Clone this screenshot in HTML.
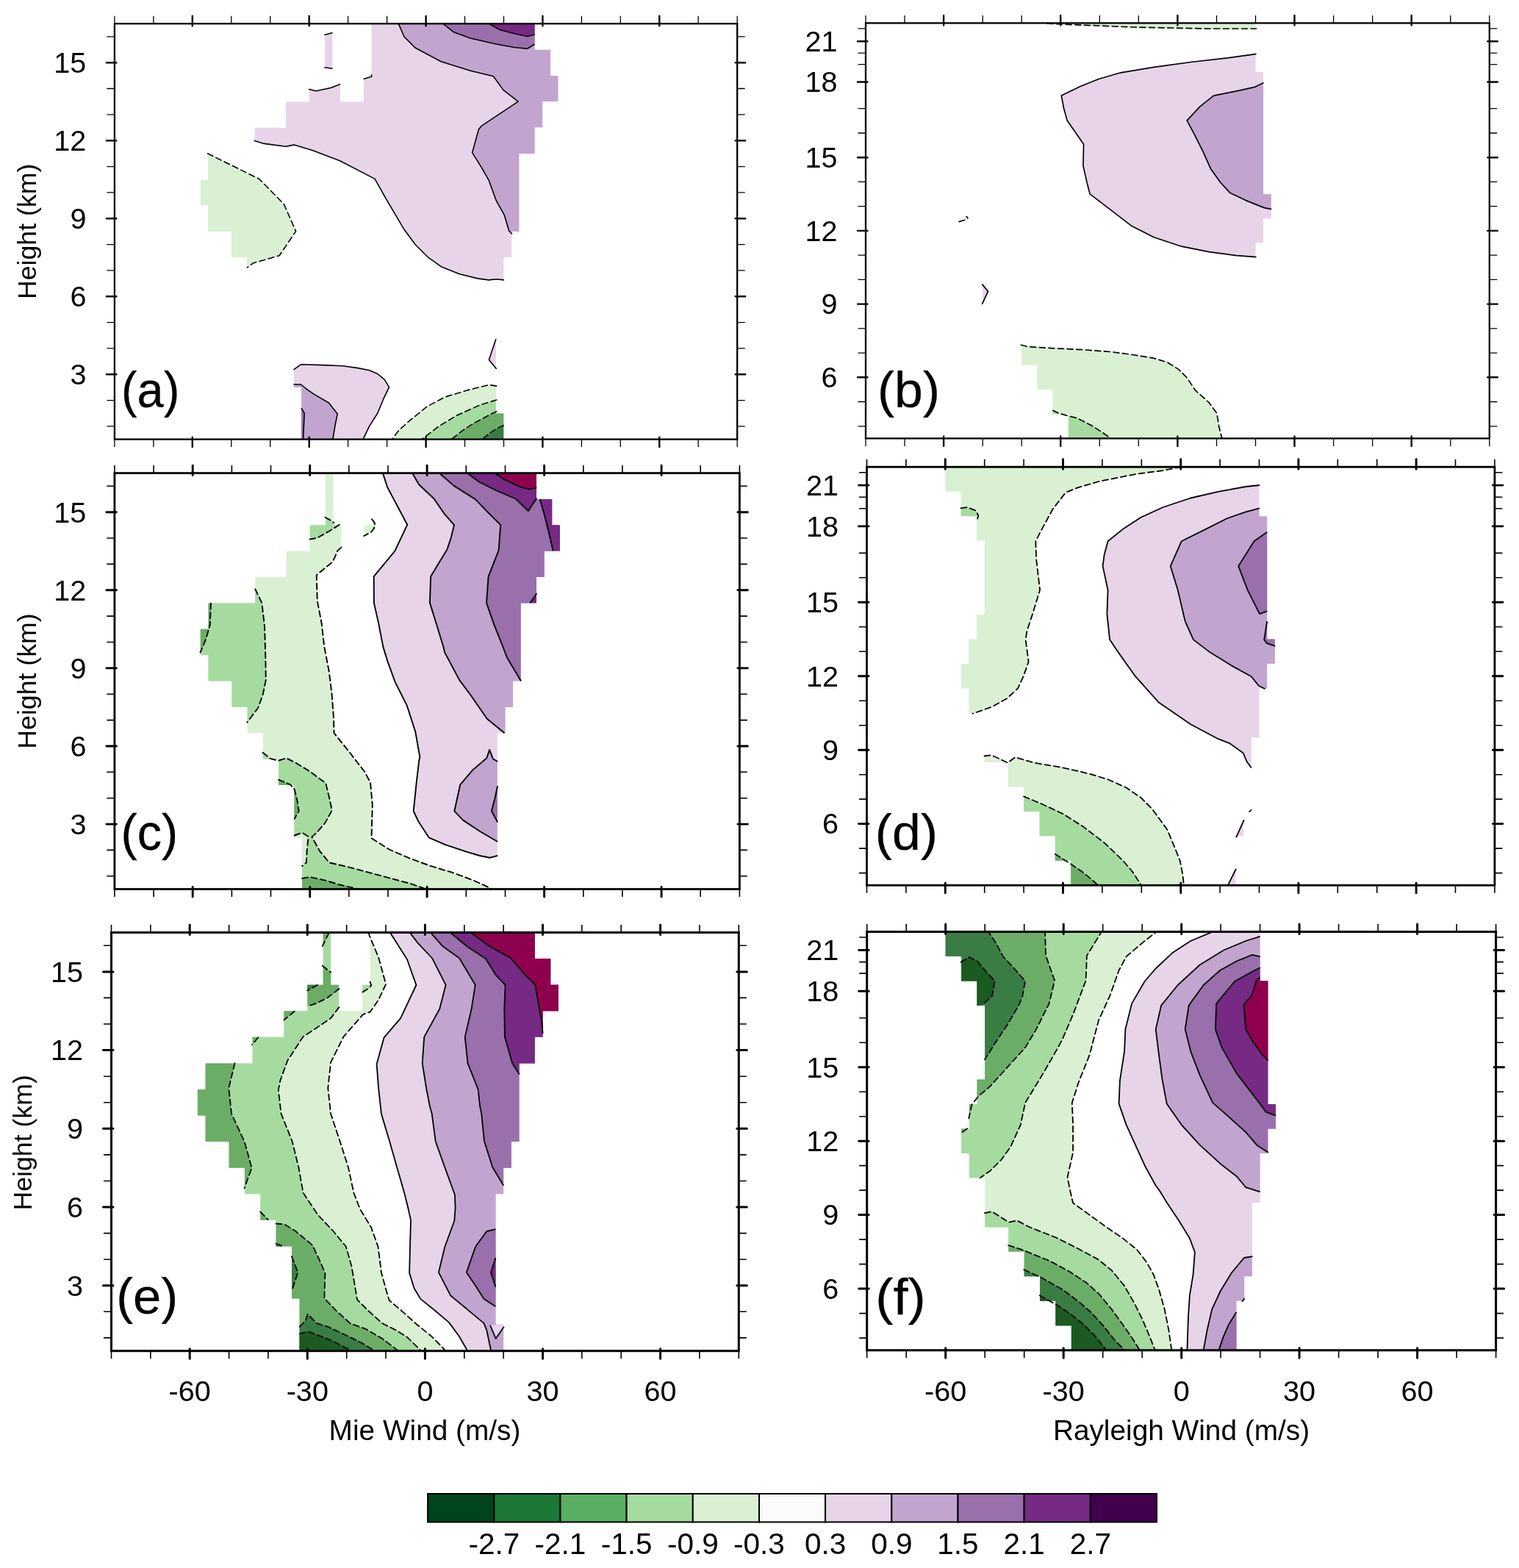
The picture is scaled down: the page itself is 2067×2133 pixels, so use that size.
<!DOCTYPE html>
<html lang="en"><head><meta charset="utf-8"><title>Wind bias contour panels</title>
<style>html,body{margin:0;padding:0;background:#fff}body{width:2067px;height:2133px;overflow:hidden}svg{display:block}.tk{font-family:"Liberation Sans", sans-serif;font-size:39.6px;fill:#000}.ax{font-family:"Liberation Sans", sans-serif;font-size:38.8px;fill:#000}.pl{font-family:"Liberation Sans", sans-serif;font-size:68px;fill:#000;stroke:#000;stroke-width:0.25px}.cl{fill:none;stroke:#000;stroke-linejoin:round}.cd{fill:none;stroke:#000;stroke-dasharray:8 4.6;stroke-linecap:round;stroke-linejoin:round}</style></head><body>
<svg width="2067" height="2133" viewBox="0 0 2067 2133">
<rect width="2067" height="2133" fill="#fff"/>
<g id="panel-a">
<clipPath id="clip-a"><rect x="155.9" y="32.2" width="847.3" height="565.4"/></clipPath>
<g clip-path="url(#clip-a)">
<clipPath id="mask-a"><polygon points="441.9,28.7 452.5,28.7 452.5,102.9 463,102.9 463,138.2 494.8,138.2 494.8,102.9 505.4,102.9 505.4,28.7 727.8,28.7 727.8,67.5 749,67.5 749,102.9 759.6,102.9 759.6,138.2 738.4,138.2 738.4,173.6 727.8,173.6 727.8,208.9 706.6,208.9 706.6,314.9 696.1,314.9 696.1,350.2 685.5,350.2 685.5,385.6 674.9,385.6 674.9,562.3 685.5,562.3 685.5,601.1 410.1,601.1 410.1,526.9 399.5,526.9 399.5,456.2 378.3,456.2 378.3,420.9 357.1,420.9 357.1,385.6 336,385.6 336,350.2 314.8,350.2 314.8,314.9 283,314.9 283,279.6 272.4,279.6 272.4,244.2 283,244.2 283,208.9 346.5,208.9 346.5,173.6 388.9,173.6 388.9,138.2 420.7,138.2 420.7,102.9 441.9,102.9"/></clipPath>
<g clip-path="url(#mask-a)">
<polygon points="345.8,191.3 357.6,195.1 388.8,199.3 400.1,197.1 425.1,204.6 462.6,218.8 510.1,243.4 525.1,270.1 550.2,312.6 565.2,332.7 582.7,350.2 600.2,362.7 625.2,372.7 650.2,378.9 665.2,380.9 675.2,379.7 686,380.9 685.5,350.2 696.1,350.2 696.1,314.9 706.6,314.9 706.6,208.9 727.8,208.9 727.8,173.6 738.4,173.6 738.4,138.2 759.6,138.2 759.6,102.9 749,102.9 749,67.5 727.8,67.5 727.8,14.5 505.4,14.5 505.6,101.3 505.6,104.3 494.6,107.5 494.8,138.2 463,138.2 463.1,114.5 450.1,119.5 430.1,123.8 420.1,121.3 420.7,138.2 388.9,138.2 388.9,173.6 346.5,173.6" fill="#e7d4e8"/>
<polygon points="441.3,47.5 452.6,44.5 452.6,93.3 441.3,91.8" fill="#e7d4e8"/>
<polygon points="541.3,30 550,50 565,65 600.1,83.8 640.1,96.3 671.3,103.8 685.1,122.6 705.1,138.1 655.1,171.3 651.3,176.3 642.6,207.6 655.1,227.6 665.1,245.1 675.1,272.6 686.3,292.6 692.6,313.9 696.8,318.4 696.1,314.9 706.6,314.9 706.6,208.9 727.8,208.9 727.8,173.6 738.4,173.6 738.4,138.2 759.6,138.2 759.6,102.9 749,102.9 749,67.5 727.8,67.5 727.8,14.5" fill="#c2a5cf"/>
<polygon points="600.1,30 617.6,43.8 640.1,52 675.1,60 700.1,64.5 717.6,66.3 727.6,60 727.8,14.5" fill="#9970ab"/>
<polygon points="661.3,30 680.1,40.5 700.1,45.8 717.6,49.5 727.6,47 727.8,14.5" fill="#762a83"/>
<polygon points="282.5,208.8 352.6,243.4 386.3,277.6 402.6,314.6 380.1,347.7 345,357.7 336.3,363.9 336,350.2 314.8,350.2 314.8,314.9 283,314.9 283,279.6 272.4,279.6 272.4,244.2 283,244.2 283,208.9" fill="#d9f0d3"/>
<polygon points="399.5,502.9 409.5,495.8 439.5,496.6 466.4,497.7 486.9,500.6 502.7,503.7 513.7,508.5 523.2,516.4 529.5,526.6 521.6,543.2 513.7,562.2 502.7,579.6 494,597.7 410.1,615.3 410.1,526.9 399.5,526.9" fill="#e7d4e8"/>
<polygon points="399.5,522.7 409.5,523 419,530.6 428.4,536.9 447.4,548 459.2,563 456.1,578 452.9,597.7 410.1,615.3 410.1,526.9 399.5,526.9" fill="#c2a5cf"/>
<polygon points="410.1,555.1 414.2,562.2 412.6,597.7 410.1,615.3" fill="#9970ab"/>
<polygon points="674.9,461.1 665.4,489.5 675.7,502.1" fill="#e7d4e8"/>
<polygon points="675.7,525.1 665.4,523.5 637,530.6 605.4,540.1 581.7,552.7 558,571.7 542.2,585.9 533.5,597.7 685.5,615.3 685.5,562.3 674.9,562.3" fill="#d9f0d3"/>
<polygon points="675.7,544 652.8,551.1 621.2,565.3 597.5,579.6 573.8,597.7 685.5,615.3 685.5,562.3 674.9,562.3" fill="#a6dba0"/>
<polygon points="675.7,559.8 668.6,563 644.9,575.6 629.1,585.9 614.1,597.7 685.5,615.3 685.5,562.3 674.9,562.3" fill="#6bad66"/>
<polygon points="685.2,578.8 676.5,582.7 665.4,589.8 655.9,597.7 685.5,615.3" fill="#3a7d44"/>
</g>
<g stroke-width="1.6">
<polyline points="345.8,191.3 357.6,195.1 388.8,199.3 400.1,197.1 425.1,204.6 462.6,218.8 510.1,243.4 525.1,270.1 550.2,312.6 565.2,332.7 582.7,350.2 600.2,362.7 625.2,372.7 650.2,378.9 665.2,380.9 675.2,379.7 686,380.9" class="cl"/>
<polyline points="505.6,101.3 505.6,104.3 494.6,107.5" class="cl"/>
<polyline points="463.1,114.5 450.1,119.5 430.1,123.8 420.1,121.3" class="cl"/>
<polyline points="441.3,47.5 452.6,44.5" class="cl"/>
<polyline points="452.6,93.3 441.3,91.8" class="cl"/>
<polyline points="541.3,30 550,50 565,65 600.1,83.8 640.1,96.3 671.3,103.8 685.1,122.6 705.1,138.1 655.1,171.3 651.3,176.3 642.6,207.6 655.1,227.6 665.1,245.1 675.1,272.6 686.3,292.6 692.6,313.9 696.8,318.4" class="cl"/>
<polyline points="600.1,30 617.6,43.8 640.1,52 675.1,60 700.1,64.5 717.6,66.3 727.6,60" class="cl"/>
<polyline points="661.3,30 680.1,40.5 700.1,45.8 717.6,49.5 727.6,47" class="cl"/>
<polyline points="282.5,208.8 352.6,243.4 386.3,277.6 402.6,314.6 380.1,347.7 345,357.7 336.3,363.9" class="cd"/>
<polyline points="399.5,502.9 409.5,495.8 439.5,496.6 466.4,497.7 486.9,500.6 502.7,503.7 513.7,508.5 523.2,516.4 529.5,526.6 521.6,543.2 513.7,562.2 502.7,579.6 494,597.7" class="cl"/>
<polyline points="399.5,522.7 409.5,523 419,530.6 428.4,536.9 447.4,548 459.2,563 456.1,578 452.9,597.7" class="cl"/>
<polyline points="410.1,555.1 414.2,562.2 412.6,597.7" class="cl"/>
<polyline points="674.9,461.1 665.4,489.5 675.7,502.1" class="cl"/>
<polyline points="675.7,525.1 665.4,523.5 637,530.6 605.4,540.1 581.7,552.7 558,571.7 542.2,585.9 533.5,597.7" class="cd"/>
<polyline points="675.7,544 652.8,551.1 621.2,565.3 597.5,579.6 573.8,597.7" class="cd"/>
<polyline points="675.7,559.8 668.6,563 644.9,575.6 629.1,585.9 614.1,597.7" class="cd"/>
<polyline points="685.2,578.8 676.5,582.7 665.4,589.8 655.9,597.7" class="cd"/>
</g>
</g>
<path d="M155.9 21.7V32.2M155.9 597.6V608.1M208.9 21.7V32.2M208.9 597.6V608.1M314.8 21.7V32.2M314.8 597.6V608.1M367.7 21.7V32.2M367.7 597.6V608.1M473.6 21.7V32.2M473.6 597.6V608.1M526.6 21.7V32.2M526.6 597.6V608.1M632.5 21.7V32.2M632.5 597.6V608.1M685.5 21.7V32.2M685.5 597.6V608.1M791.4 21.7V32.2M791.4 597.6V608.1M844.3 21.7V32.2M844.3 597.6V608.1M950.2 21.7V32.2M950.2 597.6V608.1M1003.2 21.7V32.2M1003.2 597.6V608.1M145.4 579.9H155.9M1003.2 579.9H1013.7M145.4 544.6H155.9M1003.2 544.6H1013.7M145.4 473.9H155.9M1003.2 473.9H1013.7M145.4 438.6H155.9M1003.2 438.6H1013.7M145.4 367.9H155.9M1003.2 367.9H1013.7M145.4 332.6H155.9M1003.2 332.6H1013.7M145.4 261.9H155.9M1003.2 261.9H1013.7M145.4 226.6H155.9M1003.2 226.6H1013.7M145.4 155.9H155.9M1003.2 155.9H1013.7M145.4 120.5H155.9M1003.2 120.5H1013.7M145.4 49.9H155.9M1003.2 49.9H1013.7" stroke="#000" stroke-width="1.3" fill="none"/>
<path d="M261.8 21.7V35.2M261.8 594.6V608.1M420.7 21.7V35.2M420.7 594.6V608.1M579.6 21.7V35.2M579.6 594.6V608.1M738.4 21.7V35.2M738.4 594.6V608.1M897.3 21.7V35.2M897.3 594.6V608.1M144.9 509.3H158.4M1000.7 509.3H1014.2M144.9 403.2H158.4M1000.7 403.2H1014.2M144.9 297.2H158.4M1000.7 297.2H1014.2M144.9 191.2H158.4M1000.7 191.2H1014.2M144.9 85.2H158.4M1000.7 85.2H1014.2" stroke="#000" stroke-width="2.4" fill="none" stroke-linecap="round"/>
<rect x="155.9" y="32.2" width="847.3" height="565.4" fill="none" stroke="#000" stroke-width="2.3"/>
<text x="117.4" y="523.1" text-anchor="end" class="tk">3</text>
<text x="117.4" y="417" text-anchor="end" class="tk">6</text>
<text x="117.4" y="311" text-anchor="end" class="tk">9</text>
<text x="117.4" y="205" text-anchor="end" class="tk">12</text>
<text x="117.4" y="99" text-anchor="end" class="tk">15</text>
<text transform="translate(164.9 554.1) scale(0.955 1)" class="pl">(a)</text>
</g>
<g id="panel-b">
<clipPath id="clip-b"><rect x="1178" y="31.4" width="848.8" height="565"/></clipPath>
<g clip-path="url(#clip-b)">
<clipPath id="mask-b"><polygon points="1284.1,28.1 1284.1,64.6 1305.3,64.6 1305.3,97.9 1326.5,97.9 1326.5,131.1 1337.2,131.1 1337.2,230.8 1326.5,230.8 1326.5,264 1315.9,264 1315.9,297.3 1305.3,297.3 1305.3,330.5 1315.9,330.5 1315.9,363.8 1337.2,363.8 1337.2,430.2 1369,430.2 1369,463.5 1390.2,463.5 1390.2,496.7 1411.4,496.7 1411.4,529.9 1432.6,529.9 1432.6,563.2 1453.9,563.2 1453.9,599.7 1676.7,599.7 1676.7,529.9 1687.3,529.9 1687.3,496.7 1697.9,496.7 1697.9,397 1708.5,397 1708.5,330.5 1719.1,330.5 1719.1,297.3 1729.7,297.3 1729.7,264 1719.1,264 1719.1,97.9 1708.5,97.9 1708.5,28.1"/></clipPath>
<g clip-path="url(#mask-b)">
<polygon points="1425.1,32 1445.1,33 1495.1,35 1545.1,37 1595.2,38 1645.2,39 1709.5,39 1709.5,28.4 1425.1,28.4" fill="#d9f0d3"/>
<polygon points="1709.5,73.3 1702.7,74.3 1670.2,78.8 1620.2,84.5 1570.2,91.3 1525.1,98.8 1495.1,107.5 1470.1,117.5 1444.3,130.1 1447.6,147.6 1452.1,163.8 1465.1,182.6 1474.6,196.3 1473.9,225.1 1478.9,247.6 1483.1,263.9 1507.6,282.6 1540.1,307.6 1570.2,322.7 1607.7,335.2 1645.2,342.7 1682.7,347.7 1709.5,349.7 2031.8,349.7 2031.8,73.3" fill="#e7d4e8"/>
<polygon points="1719.5,112.5 1707.7,118.3 1682.7,123.8 1651.4,130.1 1632.7,145.1 1615.2,163.8 1625.2,182.6 1637.7,207.6 1647.7,230.1 1660.2,247.6 1674,262.6 1695.2,272.6 1720.2,282.6 1730.2,284.6 2031.8,284.6 2031.8,112.5" fill="#c2a5cf"/>
<polygon points="1336.3,386.4 1344.5,396.4 1336.3,413.9" fill="#e7d4e8"/>
<polygon points="1389.5,469.2 1399,471.7 1436.9,473.9 1474.8,475.8 1512.7,478.7 1541.1,482.5 1569.6,487.2 1588.5,492.9 1603.7,502.4 1615.1,513.7 1626.4,530.8 1645.4,547.9 1655.8,562.1 1658.7,580.1 1662.5,595.3 1662.8,598.1 1178,599.4 1178,469.2" fill="#d9f0d3"/>
<polygon points="1432.7,558.3 1440.7,562.1 1453.9,565.9 1465.3,568.7 1484.3,578.2 1499.4,587.7 1509.9,595.3 1512.7,598.1 1178,599.4 1178,558.3" fill="#a6dba0"/>
</g>
<g stroke-width="1.7">
<polyline points="1425.1,32 1445.1,33 1495.1,35 1545.1,37 1595.2,38 1645.2,39 1709.5,39" class="cd"/>
<polyline points="1709.5,73.3 1702.7,74.3 1670.2,78.8 1620.2,84.5 1570.2,91.3 1525.1,98.8 1495.1,107.5 1470.1,117.5 1444.3,130.1 1447.6,147.6 1452.1,163.8 1465.1,182.6 1474.6,196.3 1473.9,225.1 1478.9,247.6 1483.1,263.9 1507.6,282.6 1540.1,307.6 1570.2,322.7 1607.7,335.2 1645.2,342.7 1682.7,347.7 1709.5,349.7" class="cl"/>
<polyline points="1719.5,112.5 1707.7,118.3 1682.7,123.8 1651.4,130.1 1632.7,145.1 1615.2,163.8 1625.2,182.6 1637.7,207.6 1647.7,230.1 1660.2,247.6 1674,262.6 1695.2,272.6 1720.2,282.6 1730.2,284.6" class="cl"/>
<polyline points="1336.3,386.4 1344.5,396.4 1336.3,413.9" class="cl"/>
<polyline points="1305,301.6 1313.8,298.9 1317,296.4 1315,294.6" class="cd"/>
<polyline points="1389.5,469.2 1399,471.7 1436.9,473.9 1474.8,475.8 1512.7,478.7 1541.1,482.5 1569.6,487.2 1588.5,492.9 1603.7,502.4 1615.1,513.7 1626.4,530.8 1645.4,547.9 1655.8,562.1 1658.7,580.1 1662.5,595.3 1662.8,598.1" class="cd"/>
<polyline points="1432.7,558.3 1440.7,562.1 1453.9,565.9 1465.3,568.7 1484.3,578.2 1499.4,587.7 1509.9,595.3 1512.7,598.1" class="cd"/>
</g>
</g>
<path d="M1178 20.9V31.4M1178 596.4V606.9M1231 20.9V31.4M1231 596.4V606.9M1337.2 20.9V31.4M1337.2 596.4V606.9M1390.2 20.9V31.4M1390.2 596.4V606.9M1496.3 20.9V31.4M1496.3 596.4V606.9M1549.3 20.9V31.4M1549.3 596.4V606.9M1655.5 20.9V31.4M1655.5 596.4V606.9M1708.5 20.9V31.4M1708.5 596.4V606.9M1814.6 20.9V31.4M1814.6 596.4V606.9M1867.7 20.9V31.4M1867.7 596.4V606.9M1973.8 20.9V31.4M1973.8 596.4V606.9M2026.8 20.9V31.4M2026.8 596.4V606.9M1167.5 579.8H1178M2026.8 579.8H2037.3M1167.5 546.5H1178M2026.8 546.5H2037.3M1167.5 480.1H1178M2026.8 480.1H2037.3M1167.5 446.8H1178M2026.8 446.8H2037.3M1167.5 380.4H1178M2026.8 380.4H2037.3M1167.5 347.1H1178M2026.8 347.1H2037.3M1167.5 280.7H1178M2026.8 280.7H2037.3M1167.5 247.4H1178M2026.8 247.4H2037.3M1167.5 181H1178M2026.8 181H2037.3M1167.5 147.7H1178M2026.8 147.7H2037.3M1167.5 87.6H1178M2026.8 87.6H2037.3M1167.5 72.1H1178M2026.8 72.1H2037.3M1167.5 38.8H1178M2026.8 38.8H2037.3" stroke="#000" stroke-width="1.3" fill="none"/>
<path d="M1284.1 20.9V34.4M1284.1 593.4V606.9M1443.2 20.9V34.4M1443.2 593.4V606.9M1602.4 20.9V34.4M1602.4 593.4V606.9M1761.5 20.9V34.4M1761.5 593.4V606.9M1920.7 20.9V34.4M1920.7 593.4V606.9M1167 513.3H1180.5M2024.3 513.3H2037.8M1167 413.6H1180.5M2024.3 413.6H2037.8M1167 313.9H1180.5M2024.3 313.9H2037.8M1167 214.2H1180.5M2024.3 214.2H2037.8M1167 111.5H1180.5M2024.3 111.5H2037.8M1167 56.2H1180.5M2024.3 56.2H2037.8" stroke="#000" stroke-width="2.4" fill="none" stroke-linecap="round"/>
<rect x="1178" y="31.4" width="848.8" height="565" fill="none" stroke="#000" stroke-width="2.3"/>
<text x="1139.5" y="527.1" text-anchor="end" class="tk">6</text>
<text x="1139.5" y="427.4" text-anchor="end" class="tk">9</text>
<text x="1139.5" y="327.7" text-anchor="end" class="tk">12</text>
<text x="1139.5" y="228" text-anchor="end" class="tk">15</text>
<text x="1139.5" y="125.3" text-anchor="end" class="tk">18</text>
<text x="1139.5" y="70" text-anchor="end" class="tk">21</text>
<text transform="translate(1193.9 553.9) scale(1.025 1)" class="pl">(b)</text>
</g>
<g id="panel-c">
<clipPath id="clip-c"><rect x="155.9" y="643.6" width="850.5" height="565.9"/></clipPath>
<g clip-path="url(#clip-c)">
<clipPath id="mask-c"><polygon points="442.9,640.1 453.6,640.1 453.6,714.3 464.2,714.3 464.2,749.7 496.1,749.7 496.1,714.3 506.7,714.3 506.7,640.1 730,640.1 730,679 751.2,679 751.2,714.3 761.9,714.3 761.9,749.7 740.6,749.7 740.6,785.1 730,785.1 730,820.4 708.7,820.4 708.7,926.5 698.1,926.5 698.1,961.9 687.5,961.9 687.5,997.3 676.8,997.3 676.8,1174.1 687.5,1174.1 687.5,1213 411,1213 411,1138.8 400.4,1138.8 400.4,1068 379.2,1068 379.2,1032.7 357.9,1032.7 357.9,997.3 336.6,997.3 336.6,961.9 315.4,961.9 315.4,926.5 283.5,926.5 283.5,891.2 272.8,891.2 272.8,855.8 283.5,855.8 283.5,820.4 347.3,820.4 347.3,785.1 389.8,785.1 389.8,749.7 421.7,749.7 421.7,714.3 442.9,714.3"/></clipPath>
<g clip-path="url(#mask-c)">
<polygon points="155.9,640.6 465.2,640.6 464.4,744.6 459,749.6 455.6,758.1 452.2,764.8 443.8,771.5 433.7,780 430.7,782.5 431.8,817.6 437.6,847.6 441.3,880.1 447.6,912.6 451.4,942.7 453.9,975.2 454.6,997.2 475.1,1022.7 496.4,1050.2 504,1064.5 506.8,1094.8 505.5,1140.3 529.6,1155.5 558,1167.8 586.4,1178.2 614.9,1186.7 643.3,1197.2 666.1,1207.6 670.8,1210.4 155.9,1212.5" fill="#d9f0d3"/>
<polygon points="506.1,706.2 509.5,710.9 510.4,714.2 508.7,719.3 505.3,723.5 499.4,726.9 495.2,729 492.7,729 492.7,706.2" fill="#d9f0d3"/>
<polygon points="347.3,801.3 356.3,820.1 360.1,852.6 361.3,892.6 361.8,925.1 357.6,945.2 351.3,962.7 336.3,982.7 150.9,982.7 150.9,801.3" fill="#a6dba0"/>
<polygon points="442.5,703.7 451.4,708.8 454.3,711.3 454.3,714.7 461.9,713.8 450.5,721 440.4,726.9 431.2,731.9 421.5,733.6 416.8,733.6 416.8,703.7" fill="#a6dba0"/>
<polygon points="357.6,1023.7 368.4,1032.2 378.9,1034.7 389.7,1031.3 402.6,1037.9 421.5,1049.3 443.3,1065.4 448.1,1085.3 451.8,1102.4 442.4,1119.4 431,1132.7 424.4,1138.4 434.8,1157.3 448.1,1173.5 472.7,1179.1 501.1,1186.7 529.6,1194.3 558,1201.9 577,1208.5 581.7,1210.8 155.9,1212.5 155.9,1023.7" fill="#a6dba0"/>
<polygon points="400.7,1136.5 411.1,1132.7 419.6,1138 417.7,1157.3 416.8,1173.5 411.1,1178.2 396.9,1178.2 396.9,1136.5" fill="#d9f0d3"/>
<polygon points="287,820.6 285.8,850.1 280,870.1 272.5,887.6 262.5,887.6 262.5,820.6" fill="#6bad66"/>
<polygon points="378.9,1060.7 395,1067.3 400.7,1073.9 404.5,1089.1 406.7,1103.3 400.7,1113.7 377.9,1113.7 377.9,1060.7" fill="#6bad66"/>
<polygon points="411.1,1194.9 421.5,1193 444.3,1198.1 463.2,1203.8 484.1,1208.5 488.8,1210.8 411.1,1210.8" fill="#6bad66"/>
<polygon points="519.3,640.6 521.3,644.7 527.2,662.9 554.2,713.8 537.3,749.6 508.7,784.2 508.9,820.1 515.1,847.6 521.4,880.1 527.6,900.1 537.6,927.6 553.9,960.2 565.2,995.2 571.4,1030.2 570.3,1034.1 566.5,1066.4 562.7,1103.3 569.4,1117.5 583.6,1139.3 605.4,1148.8 633.8,1158.3 652.8,1164 666.1,1166.8 677.1,1164 1011.4,1164 1011.4,640.6" fill="#e7d4e8"/>
<polygon points="560,641.5 561.3,644 570.2,659.3 590.6,678.5 604.6,698.9 618,714.2 613.6,732 608.5,747.3 598.3,763.9 586.1,784.3 584.9,820.1 593.2,846.8 603.4,880 605.2,887.6 625.2,925.1 640.2,945.2 662.7,977.7 686.5,997.2 1011.4,997.2 1011.4,641.5" fill="#c2a5cf"/>
<polygon points="677.1,1036 670.8,1032.2 666.1,1019.9 662.3,1031.3 643.3,1047.4 626.3,1067.3 618.3,1103.3 630,1115.6 652.8,1130.8 677.1,1145 1011.4,1145 1011.4,1036" fill="#c2a5cf"/>
<polygon points="596.4,641.5 598.3,644 617.4,660.6 646.7,679.1 664.6,697.6 681.2,714.2 679.9,730.8 678.6,748.6 671,767.8 664.6,784.3 662,820.1 672.2,849.4 684.4,880 690.2,895.1 709,926.4 1011.4,926.4 1011.4,641.5" fill="#9970ab"/>
<polygon points="677.1,1069.2 673.6,1085.3 668.9,1103.3 677.1,1118.5 1011.4,1118.5 1011.4,1069.2" fill="#9970ab"/>
<polygon points="633.3,641.5 636.5,644 651.8,655.5 674.8,667 701.6,678.5 718.8,695.1 730.3,677.8 730.3,641.5" fill="#762a83"/>
<polygon points="734.7,679.1 741.1,701.4 746.2,721.8 752.6,749.3 1011.4,749.3 1011.4,679.1" fill="#762a83"/>
<polygon points="730.3,807.3 721.4,820.1 730.3,820.1" fill="#762a83"/>
<polygon points="669.7,641.5 673.5,644 687.6,653 706.7,661.9 720.7,665.7 730.3,663.4 730.3,641.5" fill="#8e004d"/>
</g>
<g stroke-width="1.9">
<polyline points="464.4,744.6 459,749.6 455.6,758.1 452.2,764.8 443.8,771.5 433.7,780 430.7,782.5 431.8,817.6 437.6,847.6 441.3,880.1 447.6,912.6 451.4,942.7 453.9,975.2 454.6,997.2 475.1,1022.7 496.4,1050.2 504,1064.5 506.8,1094.8 505.5,1140.3 529.6,1155.5 558,1167.8 586.4,1178.2 614.9,1186.7 643.3,1197.2 666.1,1207.6 670.8,1210.4" class="cd"/>
<polyline points="506.1,706.2 509.5,710.9 510.4,714.2 508.7,719.3 505.3,723.5 499.4,726.9 495.2,729" class="cd"/>
<polyline points="347.3,801.3 356.3,820.1 360.1,852.6 361.3,892.6 361.8,925.1 357.6,945.2 351.3,962.7 336.3,982.7" class="cd"/>
<polyline points="442.5,703.7 451.4,708.8 454.3,711.3" class="cd"/>
<polyline points="461.9,713.8 450.5,721 440.4,726.9 431.2,731.9 421.5,733.6" class="cd"/>
<polyline points="357.6,1023.7 368.4,1032.2 378.9,1034.7 389.7,1031.3 402.6,1037.9 421.5,1049.3 443.3,1065.4 448.1,1085.3 451.8,1102.4 442.4,1119.4 431,1132.7 424.4,1138.4 434.8,1157.3 448.1,1173.5 472.7,1179.1 501.1,1186.7 529.6,1194.3 558,1201.9 577,1208.5 581.7,1210.8" class="cd"/>
<polyline points="400.7,1136.5 411.1,1132.7 419.6,1138 417.7,1157.3 416.8,1173.5 411.1,1178.2" class="cd"/>
<polyline points="287,820.6 285.8,850.1 280,870.1 272.5,887.6" class="cd"/>
<polyline points="378.9,1060.7 395,1067.3 400.7,1073.9 404.5,1089.1 406.7,1103.3 400.7,1113.7" class="cd"/>
<polyline points="411.1,1194.9 421.5,1193 444.3,1198.1 463.2,1203.8 484.1,1208.5 488.8,1210.8" class="cd"/>
<polyline points="519.3,640.6 521.3,644.7 527.2,662.9 554.2,713.8 537.3,749.6 508.7,784.2 508.9,820.1 515.1,847.6 521.4,880.1 527.6,900.1 537.6,927.6 553.9,960.2 565.2,995.2 571.4,1030.2 570.3,1034.1 566.5,1066.4 562.7,1103.3 569.4,1117.5 583.6,1139.3 605.4,1148.8 633.8,1158.3 652.8,1164 666.1,1166.8 677.1,1164" class="cl"/>
<polyline points="560,641.5 561.3,644 570.2,659.3 590.6,678.5 604.6,698.9 618,714.2 613.6,732 608.5,747.3 598.3,763.9 586.1,784.3 584.9,820.1 593.2,846.8 603.4,880 605.2,887.6 625.2,925.1 640.2,945.2 662.7,977.7 686.5,997.2" class="cl"/>
<polyline points="677.1,1036 670.8,1032.2 666.1,1019.9 662.3,1031.3 643.3,1047.4 626.3,1067.3 618.3,1103.3 630,1115.6 652.8,1130.8 677.1,1145" class="cl"/>
<polyline points="596.4,641.5 598.3,644 617.4,660.6 646.7,679.1 664.6,697.6 681.2,714.2 679.9,730.8 678.6,748.6 671,767.8 664.6,784.3 662,820.1 672.2,849.4 684.4,880 690.2,895.1 709,926.4" class="cl"/>
<polyline points="677.1,1069.2 673.6,1085.3 668.9,1103.3 677.1,1118.5" class="cl"/>
<polyline points="633.3,641.5 636.5,644 651.8,655.5 674.8,667 701.6,678.5 718.8,695.1 730.3,677.8" class="cl"/>
<polyline points="734.7,679.1 741.1,701.4 746.2,721.8 752.6,749.3" class="cl"/>
<polyline points="730.3,807.3 721.4,820.1" class="cl"/>
<polyline points="669.7,641.5 673.5,644 687.6,653 706.7,661.9 720.7,665.7 730.3,663.4" class="cl"/>
</g>
</g>
<path d="M155.9 633.1V643.6M155.9 1209.5V1220M209.1 633.1V643.6M209.1 1209.5V1220M315.4 633.1V643.6M315.4 1209.5V1220M368.5 633.1V643.6M368.5 1209.5V1220M474.8 633.1V643.6M474.8 1209.5V1220M528 633.1V643.6M528 1209.5V1220M634.3 633.1V643.6M634.3 1209.5V1220M687.5 633.1V643.6M687.5 1209.5V1220M793.8 633.1V643.6M793.8 1209.5V1220M846.9 633.1V643.6M846.9 1209.5V1220M953.2 633.1V643.6M953.2 1209.5V1220M1006.4 633.1V643.6M1006.4 1209.5V1220M145.4 1191.8H155.9M1006.4 1191.8H1016.9M145.4 1156.4H155.9M1006.4 1156.4H1016.9M145.4 1085.7H155.9M1006.4 1085.7H1016.9M145.4 1050.3H155.9M1006.4 1050.3H1016.9M145.4 979.6H155.9M1006.4 979.6H1016.9M145.4 944.2H155.9M1006.4 944.2H1016.9M145.4 873.5H155.9M1006.4 873.5H1016.9M145.4 838.1H155.9M1006.4 838.1H1016.9M145.4 767.4H155.9M1006.4 767.4H1016.9M145.4 732H155.9M1006.4 732H1016.9M145.4 661.3H155.9M1006.4 661.3H1016.9" stroke="#000" stroke-width="1.6" fill="none"/>
<path d="M262.2 633.1V646.6M262.2 1206.5V1220M421.7 633.1V646.6M421.7 1206.5V1220M581.1 633.1V646.6M581.1 1206.5V1220M740.6 633.1V646.6M740.6 1206.5V1220M900.1 633.1V646.6M900.1 1206.5V1220M144.9 1121.1H158.4M1003.9 1121.1H1017.4M144.9 1015H158.4M1003.9 1015H1017.4M144.9 908.9H158.4M1003.9 908.9H1017.4M144.9 802.8H158.4M1003.9 802.8H1017.4M144.9 696.7H158.4M1003.9 696.7H1017.4" stroke="#000" stroke-width="2.9" fill="none" stroke-linecap="round"/>
<rect x="155.9" y="643.6" width="850.5" height="565.9" fill="none" stroke="#000" stroke-width="2.8"/>
<text x="117.4" y="1134.9" text-anchor="end" class="tk">3</text>
<text x="117.4" y="1028.8" text-anchor="end" class="tk">6</text>
<text x="117.4" y="922.7" text-anchor="end" class="tk">9</text>
<text x="117.4" y="816.6" text-anchor="end" class="tk">12</text>
<text x="117.4" y="710.5" text-anchor="end" class="tk">15</text>
<text transform="translate(164.6 1155.9) scale(0.979 1)" class="pl">(c)</text>
</g>
<g id="panel-d">
<clipPath id="clip-d"><rect x="1179.5" y="635.2" width="854.4" height="569.1"/></clipPath>
<g clip-path="url(#clip-d)">
<clipPath id="mask-d"><polygon points="1286.3,631.9 1286.3,668.7 1307.7,668.7 1307.7,702.2 1329,702.2 1329,735.6 1339.7,735.6 1339.7,836.1 1329,836.1 1329,869.5 1318.3,869.5 1318.3,903 1307.7,903 1307.7,936.5 1318.3,936.5 1318.3,970 1339.7,970 1339.7,1036.9 1371.7,1036.9 1371.7,1070.4 1393.1,1070.4 1393.1,1103.9 1414.5,1103.9 1414.5,1137.3 1435.8,1137.3 1435.8,1170.8 1457.2,1170.8 1457.2,1207.6 1681.5,1207.6 1681.5,1137.3 1692.1,1137.3 1692.1,1103.9 1702.8,1103.9 1702.8,1003.4 1713.5,1003.4 1713.5,936.5 1724.2,936.5 1724.2,903 1734.9,903 1734.9,869.5 1724.2,869.5 1724.2,702.2 1713.5,702.2 1713.5,631.9"/></clipPath>
<g clip-path="url(#mask-d)">
<polygon points="1179.5,632.2 1606.4,633.8 1605.2,635.5 1582.7,640 1545.1,645 1495.1,655 1465.1,663.8 1450.1,670 1432.6,692.5 1417.6,720.1 1409.3,736.3 1410.1,760.1 1415.1,802.6 1405.1,835.1 1397.6,857.6 1395.6,870.1 1399.6,900.1 1392.6,920.2 1385.1,936.4 1370.1,950.2 1350,961.4 1323.8,970.7 1179.5,970.7" fill="#d9f0d3"/>
<polygon points="1307.5,691.3 1316.3,690 1327.5,694.5 1331.3,701.3 1330,706.3 1305,706.3 1305,691.3" fill="#a6dba0"/>
<polygon points="1339.5,1028.5 1348.8,1027.2 1360,1032.2 1371.3,1037.7 1381.3,1030.2 1407.6,1037.7 1445.1,1044 1482.6,1052.7 1507.6,1060.2 1532.6,1071.5 1552.6,1085.2 1567.6,1100.2 1588.5,1128.9 1598,1151.7 1605.6,1170.6 1609.4,1189.6 1610.9,1203.8 1611.1,1206.6 1179.5,1207.3 1179.5,1028.5" fill="#d9f0d3"/>
<polygon points="1393.1,1083.4 1417.9,1093.8 1446.4,1107.1 1474.8,1125.1 1503.2,1146.9 1527.9,1170.6 1541.1,1185.8 1552.5,1203.8 1554,1206.6 1179.5,1207.3 1179.5,1083.4" fill="#a6dba0"/>
<polygon points="1435.7,1161.7 1455.8,1174.4 1471,1184.8 1484.3,1195.3 1493.7,1203.8 1496,1206.6 1179.5,1207.3 1179.5,1161.7" fill="#6bad66"/>
<polygon points="1714,660 1695.2,662 1657.7,668.8 1620.2,677.5 1582.7,690 1552.6,703.8 1527.6,720.1 1507.6,736.3 1502.6,755.1 1500.6,770.1 1507.6,802.6 1506.4,835.1 1510.1,870.1 1520.1,885.1 1545.1,920.2 1576.4,955.2 1620.2,985.2 1657.7,1005.2 1673.8,1011.4 1691.8,1024.6 1696.6,1036 1702.8,1044.5 2038.9,1044.5 2038.9,660" fill="#e7d4e8"/>
<polygon points="1714,691.3 1695.2,696.3 1670.2,705 1640.2,720.1 1607.7,736.3 1592.7,770.1 1602.7,802.6 1612.7,845.1 1623.9,870.1 1645.2,886.4 1675.2,905.1 1702.7,920.2 1712.7,932.7 1721.5,937.2 2038.9,937.2 2038.9,691.3" fill="#c2a5cf"/>
<polygon points="1724.2,723.8 1706.5,736.3 1685.2,770.1 1697.7,802.6 1714,835.1 1724.2,831.4 2038.9,831.4 2038.9,723.8" fill="#9970ab"/>
<polygon points="1724.2,845.1 1720.2,870.1 1724,875.1 1735.2,878.9 2038.9,878.9 2038.9,845.1" fill="#9970ab"/>
<polygon points="1703.2,1101.4 1692.8,1114.7 1682,1139.3 1682,1182 1671,1203.8 1670,1206.3 2038.9,1206.3 2038.9,1101.4" fill="#e7d4e8"/>
</g>
<g stroke-width="1.8">
<polyline points="1606.4,633.8 1605.2,635.5 1582.7,640 1545.1,645 1495.1,655 1465.1,663.8 1450.1,670 1432.6,692.5 1417.6,720.1 1409.3,736.3 1410.1,760.1 1415.1,802.6 1405.1,835.1 1397.6,857.6 1395.6,870.1 1399.6,900.1 1392.6,920.2 1385.1,936.4 1370.1,950.2 1350,961.4 1323.8,970.7" class="cd"/>
<polyline points="1307.5,691.3 1316.3,690 1327.5,694.5 1331.3,701.3 1330,706.3" class="cd"/>
<polyline points="1339.5,1028.5 1348.8,1027.2 1360,1032.2 1371.3,1037.7 1381.3,1030.2 1407.6,1037.7 1445.1,1044 1482.6,1052.7 1507.6,1060.2 1532.6,1071.5 1552.6,1085.2 1567.6,1100.2 1588.5,1128.9 1598,1151.7 1605.6,1170.6 1609.4,1189.6 1610.9,1203.8 1611.1,1206.6" class="cd"/>
<polyline points="1393.1,1083.4 1417.9,1093.8 1446.4,1107.1 1474.8,1125.1 1503.2,1146.9 1527.9,1170.6 1541.1,1185.8 1552.5,1203.8 1554,1206.6" class="cd"/>
<polyline points="1435.7,1161.7 1455.8,1174.4 1471,1184.8 1484.3,1195.3 1493.7,1203.8 1496,1206.6" class="cd"/>
<polyline points="1714,660 1695.2,662 1657.7,668.8 1620.2,677.5 1582.7,690 1552.6,703.8 1527.6,720.1 1507.6,736.3 1502.6,755.1 1500.6,770.1 1507.6,802.6 1506.4,835.1 1510.1,870.1 1520.1,885.1 1545.1,920.2 1576.4,955.2 1620.2,985.2 1657.7,1005.2 1673.8,1011.4 1691.8,1024.6 1696.6,1036 1702.8,1044.5" class="cl"/>
<polyline points="1714,691.3 1695.2,696.3 1670.2,705 1640.2,720.1 1607.7,736.3 1592.7,770.1 1602.7,802.6 1612.7,845.1 1623.9,870.1 1645.2,886.4 1675.2,905.1 1702.7,920.2 1712.7,932.7 1721.5,937.2" class="cl"/>
<polyline points="1724.2,723.8 1706.5,736.3 1685.2,770.1 1697.7,802.6 1714,835.1 1724.2,831.4" class="cl"/>
<polyline points="1724.2,845.1 1720.2,870.1 1724,875.1 1735.2,878.9" class="cl"/>
<polyline points="1703.2,1101.4 1699.4,1104.6" class="cl"/>
<polyline points="1692.8,1115.3 1682,1139.3" class="cl"/>
<polyline points="1682,1182 1671,1203.8 1670,1206.3" class="cl"/>
</g>
</g>
<path d="M1179.5 624.7V635.2M1179.5 1204.3V1214.8M1232.9 624.7V635.2M1232.9 1204.3V1214.8M1339.7 624.7V635.2M1339.7 1204.3V1214.8M1393.1 624.7V635.2M1393.1 1204.3V1214.8M1499.9 624.7V635.2M1499.9 1204.3V1214.8M1553.3 624.7V635.2M1553.3 1204.3V1214.8M1660.1 624.7V635.2M1660.1 1204.3V1214.8M1713.5 624.7V635.2M1713.5 1204.3V1214.8M1820.3 624.7V635.2M1820.3 1204.3V1214.8M1873.7 624.7V635.2M1873.7 1204.3V1214.8M1980.5 624.7V635.2M1980.5 1204.3V1214.8M2033.9 624.7V635.2M2033.9 1204.3V1214.8M1169 1187.6H1179.5M2033.9 1187.6H2044.4M1169 1154.1H1179.5M2033.9 1154.1H2044.4M1169 1087.1H1179.5M2033.9 1087.1H2044.4M1169 1053.7H1179.5M2033.9 1053.7H2044.4M1169 986.7H1179.5M2033.9 986.7H2044.4M1169 953.2H1179.5M2033.9 953.2H2044.4M1169 886.3H1179.5M2033.9 886.3H2044.4M1169 852.8H1179.5M2033.9 852.8H2044.4M1169 785.8H1179.5M2033.9 785.8H2044.4M1169 752.4H1179.5M2033.9 752.4H2044.4M1169 691.8H1179.5M2033.9 691.8H2044.4M1169 676.2H1179.5M2033.9 676.2H2044.4M1169 642.7H1179.5M2033.9 642.7H2044.4" stroke="#000" stroke-width="1.6" fill="none"/>
<path d="M1286.3 624.7V638.2M1286.3 1201.3V1214.8M1446.5 624.7V638.2M1446.5 1201.3V1214.8M1606.7 624.7V638.2M1606.7 1201.3V1214.8M1766.9 624.7V638.2M1766.9 1201.3V1214.8M1927.1 624.7V638.2M1927.1 1201.3V1214.8M1168.5 1120.6H1182M2031.4 1120.6H2044.9M1168.5 1020.2H1182M2031.4 1020.2H2044.9M1168.5 919.8H1182M2031.4 919.8H2044.9M1168.5 819.3H1182M2031.4 819.3H2044.9M1168.5 715.9H1182M2031.4 715.9H2044.9M1168.5 660.1H1182M2031.4 660.1H2044.9" stroke="#000" stroke-width="2.9" fill="none" stroke-linecap="round"/>
<rect x="1179.5" y="635.2" width="854.4" height="569.1" fill="none" stroke="#000" stroke-width="2.8"/>
<text x="1141" y="1134.4" text-anchor="end" class="tk">6</text>
<text x="1141" y="1034" text-anchor="end" class="tk">9</text>
<text x="1141" y="933.5" text-anchor="end" class="tk">12</text>
<text x="1141" y="833.1" text-anchor="end" class="tk">15</text>
<text x="1141" y="729.7" text-anchor="end" class="tk">18</text>
<text x="1141" y="673.9" text-anchor="end" class="tk">21</text>
<text transform="translate(1190.8 1155.9) scale(1.025 1)" class="pl">(d)</text>
</g>
<g id="panel-e">
<clipPath id="clip-e"><rect x="151.5" y="1268.5" width="853.8" height="569.2"/></clipPath>
<g clip-path="url(#clip-e)">
<clipPath id="mask-e"><polygon points="439.7,1264.9 450.3,1264.9 450.3,1339.7 461,1339.7 461,1375.2 493,1375.2 493,1339.7 503.7,1339.7 503.7,1264.9 727.8,1264.9 727.8,1304.1 749.2,1304.1 749.2,1339.7 759.8,1339.7 759.8,1375.2 738.5,1375.2 738.5,1410.8 727.8,1410.8 727.8,1446.4 706.5,1446.4 706.5,1553.1 695.8,1553.1 695.8,1588.7 685.1,1588.7 685.1,1624.2 674.5,1624.2 674.5,1802.1 685.1,1802.1 685.1,1841.3 407.6,1841.3 407.6,1766.5 397,1766.5 397,1695.4 375.6,1695.4 375.6,1659.8 354.3,1659.8 354.3,1624.2 332.9,1624.2 332.9,1588.7 311.6,1588.7 311.6,1553.1 279.6,1553.1 279.6,1517.5 268.9,1517.5 268.9,1482 279.6,1482 279.6,1446.4 343.6,1446.4 343.6,1410.8 386.3,1410.8 386.3,1375.2 418.3,1375.2 418.3,1339.7 439.7,1339.7"/></clipPath>
<g clip-path="url(#mask-e)">
<polygon points="151.5,1265.5 501.4,1267.5 502.6,1272.5 515.1,1302.5 525.1,1338.8 515.1,1360.1 503.9,1376.3 493.9,1380.1 467.6,1410.1 450.1,1445.1 446.3,1480.1 450.1,1515.1 462.6,1552.6 473.9,1587.7 481.4,1622.7 490.1,1645.2 504.9,1669.3 514.4,1695.8 519.1,1731.8 524.8,1752.7 529.6,1768.8 548.5,1784.9 567.5,1802 586.4,1817.2 597.8,1828.5 605.4,1836.7 606.7,1838.4 151.5,1840.7" fill="#d9f0d3"/>
<polygon points="151.5,1265.5 462.4,1265.5 461.4,1370.1 450.1,1385.1 430.1,1398.8 412.6,1410.1 391.3,1442.6 381.3,1470.1 378.8,1482.6 382.6,1515.1 397.6,1552.6 406.3,1587.7 412.6,1622.7 432.6,1652.7 453.7,1675 470.8,1695.8 478.4,1722.4 482.2,1745.1 486,1767.9 501.1,1783 520.1,1800.1 539.1,1809.6 554.2,1819.1 572.2,1836.7 574.1,1838.4 151.5,1840.7" fill="#a6dba0"/>
<polygon points="503.4,1335.5 505.4,1340.3 502.4,1344 493.1,1349.8 490.1,1350 490.1,1337.5" fill="#a6dba0"/>
<polygon points="447.6,1269 438.8,1287 435.1,1287 435.1,1267.5 447.6,1267.5" fill="#6bad66"/>
<polygon points="438.8,1313.8 450.1,1322.5 465.1,1326.3 461.6,1345 445.1,1357.6 430.1,1365.1 418.3,1368.8 412.6,1368.8 412.6,1313.8" fill="#6bad66"/>
<polygon points="400.8,1375.8 386.3,1387.6 383.8,1387.6 383.8,1372.6 400.8,1372.6" fill="#6bad66"/>
<polygon points="351.3,1411.3 343,1421.3 341.3,1421.3 341.3,1408.8 351.3,1408.8" fill="#6bad66"/>
<polygon points="319.5,1446.3 311.3,1480.1 315,1515.1 332.5,1552.6 337.5,1570.2 342.5,1588.9 332.5,1616.4 146.5,1616.4 146.5,1446.3" fill="#6bad66"/>
<polygon points="354.2,1648.4 364.6,1658.9 364.6,1660.8 352.3,1660.8 352.3,1648.4" fill="#6bad66"/>
<polygon points="375.6,1664.5 387.4,1665.5 402.6,1675 425.3,1693.9 436.7,1718.6 442.4,1731.8 441.4,1766 457.5,1783 476.5,1800.1 497.3,1807.7 520.1,1820.9 540.9,1836.7 542.8,1838.4 151.5,1840.7 151.5,1664.5" fill="#6bad66"/>
<polygon points="432.1,1340 418.3,1347.5 415.1,1347.5 415.1,1337.5 432.1,1337.5" fill="#3a7d44"/>
<polygon points="375.6,1691.7 383.6,1694.9 383.6,1696.2 374.1,1696.2 374.1,1691.7" fill="#3a7d44"/>
<polygon points="396.9,1709.1 405.4,1730.9 396.9,1756.5 395,1756.5 395,1709.1" fill="#3a7d44"/>
<polygon points="407.7,1804.8 415.8,1796.3 418.7,1787.8 431,1800.1 446.2,1804.8 472.7,1817.2 491.7,1826.6 508.7,1836.7 510.6,1838.4 405.4,1838.4 405.4,1804.8" fill="#3a7d44"/>
<polygon points="407.7,1814.3 419.6,1811.5 434.8,1817.2 453.7,1824.7 476.5,1836.7 478.4,1838.4 405.4,1838.4 405.4,1814.3" fill="#1b5a20"/>
<polygon points="530.1,1267.5 531.4,1269.5 553.9,1305 566.4,1340 545.1,1385.1 522.6,1411.3 512.6,1447.6 515.1,1480.1 518.9,1515.1 530.1,1552.6 540.1,1587.7 550.2,1622.7 555.2,1642.7 559,1659.8 558,1695.8 557.1,1731.8 563.7,1752.7 572.2,1766.9 592.1,1783 611.1,1799.1 624.4,1817.2 635.7,1836.7 636.7,1838.4 1010.3,1838.4 1010.3,1267.5" fill="#e7d4e8"/>
<polygon points="558.1,1269 560,1271.6 567.7,1281.8 588.1,1303.5 606.6,1339.8 598.3,1372.3 577.2,1410.6 574.7,1446.3 580.4,1482 584.9,1505 587.7,1515.1 592.7,1552.6 605.2,1587.7 618.9,1625.2 619.6,1642.7 618.3,1660.8 605.4,1695.8 596.9,1730.9 613,1762.2 635.7,1781.1 658.5,1800.1 662.3,1809.6 668,1836.7 668.3,1838.4 1010.3,1838.4 1010.3,1269" fill="#c2a5cf"/>
<polygon points="667,1802.6 674.6,1820.9 685.8,1804.8 685.8,1802.6" fill="#e7d4e8"/>
<polygon points="585.5,1268.4 587.4,1270.3 602.1,1286.9 625.1,1303.5 646.7,1339.8 641.6,1372.3 632.7,1410.6 636.5,1446.3 650.6,1482 653.1,1505 655.2,1515.1 659,1552.6 670.2,1587.7 685.2,1612.7 1010.3,1612.7 1010.3,1268.4" fill="#9970ab"/>
<polygon points="674.4,1672.1 662.3,1675 647.1,1695.8 634.8,1730.9 647.1,1748.9 658.5,1766.9 674.4,1777.3 1010.3,1777.3 1010.3,1672.1" fill="#9970ab"/>
<polygon points="612.9,1268.4 614.8,1270.3 636.5,1288.2 660.8,1304.1 674.8,1326.4 687.6,1339.8 686.3,1372.3 686.9,1410.6 697.1,1446.3 706.7,1461.6 1010.3,1461.6 1010.3,1268.4" fill="#762a83"/>
<polygon points="674.4,1711 668,1730.9 674.4,1750.8 1010.3,1750.8 1010.3,1711" fill="#762a83"/>
<polygon points="640.4,1268.4 642.9,1270.3 665.9,1286.9 695.2,1303.5 713.1,1324.5 728.4,1339.8 733.5,1369.8 737.3,1390.2 738.6,1406.1 1010.3,1406.1 1010.3,1268.4" fill="#8e004d"/>
</g>
<g stroke-width="1.8">
<polyline points="501.4,1267.5 502.6,1272.5 515.1,1302.5 525.1,1338.8 515.1,1360.1 503.9,1376.3 493.9,1380.1 467.6,1410.1 450.1,1445.1 446.3,1480.1 450.1,1515.1 462.6,1552.6 473.9,1587.7 481.4,1622.7 490.1,1645.2 504.9,1669.3 514.4,1695.8 519.1,1731.8 524.8,1752.7 529.6,1768.8 548.5,1784.9 567.5,1802 586.4,1817.2 597.8,1828.5 605.4,1836.7 606.7,1838.4" class="cd"/>
<polyline points="461.4,1370.1 450.1,1385.1 430.1,1398.8 412.6,1410.1 391.3,1442.6 381.3,1470.1 378.8,1482.6 382.6,1515.1 397.6,1552.6 406.3,1587.7 412.6,1622.7 432.6,1652.7 453.7,1675 470.8,1695.8 478.4,1722.4 482.2,1745.1 486,1767.9 501.1,1783 520.1,1800.1 539.1,1809.6 554.2,1819.1 572.2,1836.7 574.1,1838.4" class="cd"/>
<polyline points="503.4,1335.5 505.4,1340.3 502.4,1344 493.1,1349.8" class="cd"/>
<polyline points="447.6,1269 438.8,1287" class="cd"/>
<polyline points="438.8,1313.8 450.1,1322.5" class="cd"/>
<polyline points="461.6,1345 445.1,1357.6 430.1,1365.1 418.3,1368.8" class="cd"/>
<polyline points="400.8,1375.8 386.3,1387.6" class="cd"/>
<polyline points="351.3,1411.3 343,1421.3" class="cd"/>
<polyline points="319.5,1446.3 311.3,1480.1 315,1515.1 332.5,1552.6 337.5,1570.2 342.5,1588.9 332.5,1616.4" class="cd"/>
<polyline points="354.2,1648.4 364.6,1658.9" class="cd"/>
<polyline points="375.6,1664.5 387.4,1665.5 402.6,1675 425.3,1693.9 436.7,1718.6 442.4,1731.8 441.4,1766 457.5,1783 476.5,1800.1 497.3,1807.7 520.1,1820.9 540.9,1836.7 542.8,1838.4" class="cd"/>
<polyline points="432.1,1340 418.3,1347.5" class="cd"/>
<polyline points="375.6,1691.7 383.6,1694.9" class="cd"/>
<polyline points="396.9,1709.1 405.4,1730.9 396.9,1756.5" class="cd"/>
<polyline points="407.7,1804.8 415.8,1796.3 418.7,1787.8 431,1800.1 446.2,1804.8 472.7,1817.2 491.7,1826.6 508.7,1836.7 510.6,1838.4" class="cd"/>
<polyline points="407.7,1814.3 419.6,1811.5 434.8,1817.2 453.7,1824.7 476.5,1836.7 478.4,1838.4" class="cd"/>
<polyline points="530.1,1267.5 531.4,1269.5 553.9,1305 566.4,1340 545.1,1385.1 522.6,1411.3 512.6,1447.6 515.1,1480.1 518.9,1515.1 530.1,1552.6 540.1,1587.7 550.2,1622.7 555.2,1642.7 559,1659.8 558,1695.8 557.1,1731.8 563.7,1752.7 572.2,1766.9 592.1,1783 611.1,1799.1 624.4,1817.2 635.7,1836.7 636.7,1838.4" class="cl"/>
<polyline points="558.1,1269 560,1271.6 567.7,1281.8 588.1,1303.5 606.6,1339.8 598.3,1372.3 577.2,1410.6 574.7,1446.3 580.4,1482 584.9,1505 587.7,1515.1 592.7,1552.6 605.2,1587.7 618.9,1625.2 619.6,1642.7 618.3,1660.8 605.4,1695.8 596.9,1730.9 613,1762.2 635.7,1781.1 658.5,1800.1 662.3,1809.6 668,1836.7 668.3,1838.4" class="cl"/>
<polyline points="667,1802.6 674.6,1820.9 685.8,1804.8" class="cl"/>
<polyline points="585.5,1268.4 587.4,1270.3 602.1,1286.9 625.1,1303.5 646.7,1339.8 641.6,1372.3 632.7,1410.6 636.5,1446.3 650.6,1482 653.1,1505 655.2,1515.1 659,1552.6 670.2,1587.7 685.2,1612.7" class="cl"/>
<polyline points="674.4,1672.1 662.3,1675 647.1,1695.8 634.8,1730.9 647.1,1748.9 658.5,1766.9 674.4,1777.3" class="cl"/>
<polyline points="612.9,1268.4 614.8,1270.3 636.5,1288.2 660.8,1304.1 674.8,1326.4 687.6,1339.8 686.3,1372.3 686.9,1410.6 697.1,1446.3 706.7,1461.6" class="cl"/>
<polyline points="674.4,1711 668,1730.9 674.4,1750.8" class="cl"/>
<polyline points="640.4,1268.4 642.9,1270.3 665.9,1286.9 695.2,1303.5 713.1,1324.5 728.4,1339.8 733.5,1369.8 737.3,1390.2 738.6,1406.1" class="cl"/>
</g>
</g>
<path d="M151.5 1258V1268.5M151.5 1837.7V1848.2M204.9 1258V1268.5M204.9 1837.7V1848.2M311.6 1258V1268.5M311.6 1837.7V1848.2M364.9 1258V1268.5M364.9 1837.7V1848.2M471.7 1258V1268.5M471.7 1837.7V1848.2M525 1258V1268.5M525 1837.7V1848.2M631.8 1258V1268.5M631.8 1837.7V1848.2M685.1 1258V1268.5M685.1 1837.7V1848.2M791.8 1258V1268.5M791.8 1837.7V1848.2M845.2 1258V1268.5M845.2 1837.7V1848.2M951.9 1258V1268.5M951.9 1837.7V1848.2M1005.3 1258V1268.5M1005.3 1837.7V1848.2M141 1819.9H151.5M1005.3 1819.9H1015.8M141 1784.3H151.5M1005.3 1784.3H1015.8M141 1713.2H151.5M1005.3 1713.2H1015.8M141 1677.6H151.5M1005.3 1677.6H1015.8M141 1606.5H151.5M1005.3 1606.5H1015.8M141 1570.9H151.5M1005.3 1570.9H1015.8M141 1499.7H151.5M1005.3 1499.7H1015.8M141 1464.2H151.5M1005.3 1464.2H1015.8M141 1393H151.5M1005.3 1393H1015.8M141 1357.4H151.5M1005.3 1357.4H1015.8M141 1286.3H151.5M1005.3 1286.3H1015.8" stroke="#000" stroke-width="1.6" fill="none"/>
<path d="M258.2 1258V1271.5M258.2 1834.7V1848.2M418.3 1258V1271.5M418.3 1834.7V1848.2M578.4 1258V1271.5M578.4 1834.7V1848.2M738.5 1258V1271.5M738.5 1834.7V1848.2M898.6 1258V1271.5M898.6 1834.7V1848.2M140.5 1748.8H154M1002.8 1748.8H1016.3M140.5 1642H154M1002.8 1642H1016.3M140.5 1535.3H154M1002.8 1535.3H1016.3M140.5 1428.6H154M1002.8 1428.6H1016.3M140.5 1321.9H154M1002.8 1321.9H1016.3" stroke="#000" stroke-width="3.0" fill="none" stroke-linecap="round"/>
<rect x="151.5" y="1268.5" width="853.8" height="569.2" fill="none" stroke="#000" stroke-width="3"/>
<text x="113" y="1762.6" text-anchor="end" class="tk">3</text>
<text x="113" y="1655.8" text-anchor="end" class="tk">6</text>
<text x="113" y="1549.1" text-anchor="end" class="tk">9</text>
<text x="113" y="1442.4" text-anchor="end" class="tk">12</text>
<text x="113" y="1335.7" text-anchor="end" class="tk">15</text>
<text transform="translate(158.2 1787.2) scale(1.011 1)" class="pl">(e)</text>
</g>
<g id="panel-f">
<clipPath id="clip-f"><rect x="1179.7" y="1267.5" width="855.9" height="569.3"/></clipPath>
<g clip-path="url(#clip-f)">
<clipPath id="mask-f"><polygon points="1286.7,1264.2 1286.7,1301 1308.1,1301 1308.1,1334.5 1329.5,1334.5 1329.5,1368 1340.2,1368 1340.2,1468.4 1329.5,1468.4 1329.5,1501.9 1318.8,1501.9 1318.8,1535.4 1308.1,1535.4 1308.1,1568.9 1318.8,1568.9 1318.8,1602.4 1340.2,1602.4 1340.2,1669.4 1372.3,1669.4 1372.3,1702.8 1393.7,1702.8 1393.7,1736.3 1415.1,1736.3 1415.1,1769.8 1436.5,1769.8 1436.5,1803.3 1457.9,1803.3 1457.9,1840.1 1682.5,1840.1 1682.5,1769.8 1693.2,1769.8 1693.2,1736.3 1703.9,1736.3 1703.9,1635.9 1714.6,1635.9 1714.6,1568.9 1725.3,1568.9 1725.3,1535.4 1736,1535.4 1736,1501.9 1725.3,1501.9 1725.3,1334.5 1714.6,1334.5 1714.6,1264.2"/></clipPath>
<g clip-path="url(#mask-f)">
<polygon points="1179.7,1264.5 1577.7,1265 1573.9,1267.5 1557.6,1280 1532.6,1301.3 1522.6,1320 1510.1,1355.1 1495.1,1387.6 1482.6,1435.1 1467.6,1472.6 1458.8,1500.1 1460.1,1530.1 1460.1,1567.7 1452.6,1601.4 1456.3,1620.2 1460.1,1636.4 1482.6,1652.7 1505.1,1669 1527.9,1684.5 1546.8,1699.6 1560.1,1716.7 1569.6,1733.7 1577.2,1754.6 1584.7,1781.1 1590.4,1809.6 1594.2,1836.1 1594.6,1839 1179.7,1839.8" fill="#d9f0d3"/>
<polygon points="1179.7,1264.5 1500.1,1265 1498.9,1267.5 1478.9,1300 1477.6,1333.8 1460.1,1380.1 1445.1,1415.1 1432.6,1437.6 1415.1,1467.6 1395.1,1500.1 1388.8,1530.1 1375.1,1560.2 1362.5,1577.7 1347.5,1592.7 1333.8,1602.2 1179.7,1602.2" fill="#a6dba0"/>
<polygon points="1340,1650.2 1350,1648.2 1372.6,1662.7 1383.8,1660.2 1400.1,1669 1436.9,1683.5 1465.3,1697.7 1493.7,1712.9 1512.7,1728.1 1529.8,1748.9 1543,1771.7 1554.4,1794.4 1564.8,1819.1 1571.5,1836.1 1572.4,1839 1179.7,1839.8 1179.7,1650.2" fill="#a6dba0"/>
<polygon points="1179.7,1264.5 1422.1,1265 1422.1,1267.5 1423.1,1300 1435.1,1333.8 1427.6,1365.1 1410.1,1400.1 1395.1,1425.1 1370.1,1452.6 1347.5,1477.6 1331.3,1491.4 1322.5,1502.6 1318.3,1521.4 1179.7,1521.4" fill="#6bad66"/>
<polygon points="1316.3,1535.1 1308,1541.4 1305,1541.4 1305,1533.9 1316.3,1533.9" fill="#6bad66"/>
<polygon points="1372.1,1694 1395.1,1701.5 1399,1703.4 1427.4,1714.8 1455.8,1730 1478.6,1745.1 1495.6,1760.3 1512.7,1781.1 1527.9,1802 1541.1,1820.9 1550.6,1836.1 1551.6,1839 1179.7,1839.8 1179.7,1694" fill="#6bad66"/>
<polygon points="1179.7,1264.5 1343.8,1265 1345,1267.5 1355,1282.5 1365,1301.3 1380.1,1317.5 1395.1,1334.5 1391.3,1355.1 1386.3,1367.6 1370.1,1395.1 1355,1417.6 1344,1435.1 1340,1441.3 1179.7,1441.3" fill="#3a7d44"/>
<polygon points="1393.3,1727.1 1417.9,1738.5 1446.4,1754.6 1469.1,1771.7 1486.2,1786.8 1503.2,1805.8 1516.5,1822.8 1529.8,1836.1 1530.7,1839 1179.7,1839.8 1179.7,1727.1" fill="#3a7d44"/>
<polygon points="1307.5,1308.8 1318.8,1302 1330,1307.5 1342.5,1322.5 1353.8,1334.5 1350,1355.1 1338.8,1365.1 1327.5,1370.1 1305,1370.1" fill="#1b5a20"/>
<polygon points="1414.7,1762.2 1436.9,1774.5 1455.8,1786.8 1474.8,1802 1490,1817.2 1505.1,1836.1 1506.1,1839 1179.7,1839.8 1179.7,1762.2" fill="#1b5a20"/>
<polygon points="1655.2,1265 1650.2,1267.5 1620.2,1280 1595.2,1296.3 1572.7,1317.5 1557.6,1335 1540.1,1365.1 1531.4,1400.1 1530.1,1430.1 1523.9,1470.1 1522.6,1501.4 1532.6,1530.1 1545.1,1557.7 1557.6,1585.2 1572.7,1612.7 1578.1,1620 1588.5,1637.1 1603.7,1659.8 1618.9,1684.5 1625.9,1703.4 1623.6,1733.7 1618.9,1762.2 1617,1790.6 1616,1819.1 1615.5,1836.1 1615.5,1839 2040.6,1839 2040.6,1264.5" fill="#e7d4e8"/>
<polygon points="1714.7,1273.8 1695.2,1280 1665.2,1292.5 1632.7,1312.5 1602.7,1340 1580.2,1367.6 1572.7,1400.1 1576.4,1430.1 1581.4,1467.6 1587.7,1501.4 1607.7,1530.1 1632.7,1557.7 1660.2,1582.7 1682.7,1600.2 1695.2,1615.2 1714.7,1621.4 2040.6,1621.4 2040.6,1273.8" fill="#c2a5cf"/>
<polygon points="1704.5,1709.1 1692.8,1711 1675.7,1731.8 1660.6,1756.5 1649.2,1781.1 1642.6,1809.6 1637.8,1836.1 1637.4,1839 2040.6,1839 2040.6,1709.1" fill="#c2a5cf"/>
<polygon points="1714.7,1301.3 1704,1298.8 1682.7,1307.5 1660.2,1320 1637.7,1340 1617.7,1367.6 1612.7,1400.1 1620.2,1430.1 1632.7,1462.6 1650.2,1500.1 1670.2,1517.6 1695.2,1540.1 1710.2,1557.7 1725.7,1567.7 2040.6,1567.7 2040.6,1301.3" fill="#9970ab"/>
<polygon points="1682.4,1784.9 1671.9,1802 1664.4,1819.1 1658.7,1836.1 1658.3,1839 2040.6,1839 2040.6,1784.9" fill="#9970ab"/>
<polygon points="1714.7,1316.3 1700.2,1323.8 1680.2,1335 1655.2,1365.1 1653.9,1400.1 1662.7,1425.1 1682.7,1460.1 1707.7,1492.6 1722.7,1512.6 1736,1517.6 2040.6,1517.6 2040.6,1316.3" fill="#762a83"/>
<polygon points="1714.7,1329.3 1709.5,1334 1706.5,1344.5 1703.2,1354 1692.7,1366.6 1695.2,1400.1 1705.2,1417.6 1717.7,1435.1 1725.7,1442.6 2040.6,1442.6 2040.6,1329.3" fill="#8e004d"/>
</g>
<g stroke-width="1.8">
<polyline points="1577.7,1265 1573.9,1267.5 1557.6,1280 1532.6,1301.3 1522.6,1320 1510.1,1355.1 1495.1,1387.6 1482.6,1435.1 1467.6,1472.6 1458.8,1500.1 1460.1,1530.1 1460.1,1567.7 1452.6,1601.4 1456.3,1620.2 1460.1,1636.4 1482.6,1652.7 1505.1,1669 1527.9,1684.5 1546.8,1699.6 1560.1,1716.7 1569.6,1733.7 1577.2,1754.6 1584.7,1781.1 1590.4,1809.6 1594.2,1836.1 1594.6,1839" class="cd"/>
<polyline points="1500.1,1265 1498.9,1267.5 1478.9,1300 1477.6,1333.8 1460.1,1380.1 1445.1,1415.1 1432.6,1437.6 1415.1,1467.6 1395.1,1500.1 1388.8,1530.1 1375.1,1560.2 1362.5,1577.7 1347.5,1592.7 1333.8,1602.2" class="cd"/>
<polyline points="1340,1650.2 1350,1648.2 1372.6,1662.7 1383.8,1660.2 1400.1,1669 1436.9,1683.5 1465.3,1697.7 1493.7,1712.9 1512.7,1728.1 1529.8,1748.9 1543,1771.7 1554.4,1794.4 1564.8,1819.1 1571.5,1836.1 1572.4,1839" class="cd"/>
<polyline points="1422.1,1265 1422.1,1267.5 1423.1,1300 1435.1,1333.8 1427.6,1365.1 1410.1,1400.1 1395.1,1425.1 1370.1,1452.6 1347.5,1477.6 1331.3,1491.4 1322.5,1502.6 1318.3,1521.4" class="cd"/>
<polyline points="1316.3,1535.1 1308,1541.4" class="cd"/>
<polyline points="1372.1,1694 1395.1,1701.5 1399,1703.4 1427.4,1714.8 1455.8,1730 1478.6,1745.1 1495.6,1760.3 1512.7,1781.1 1527.9,1802 1541.1,1820.9 1550.6,1836.1 1551.6,1839" class="cd"/>
<polyline points="1343.8,1265 1345,1267.5 1355,1282.5 1365,1301.3 1380.1,1317.5 1395.1,1334.5 1391.3,1355.1 1386.3,1367.6 1370.1,1395.1 1355,1417.6 1344,1435.1 1340,1441.3" class="cd"/>
<polyline points="1393.3,1727.1 1417.9,1738.5 1446.4,1754.6 1469.1,1771.7 1486.2,1786.8 1503.2,1805.8 1516.5,1822.8 1529.8,1836.1 1530.7,1839" class="cd"/>
<polyline points="1307.5,1308.8 1318.8,1302 1330,1307.5 1342.5,1322.5 1353.8,1334.5 1350,1355.1 1338.8,1365.1" class="cd"/>
<polyline points="1414.7,1762.2 1436.9,1774.5 1455.8,1786.8 1474.8,1802 1490,1817.2 1505.1,1836.1 1506.1,1839" class="cd"/>
<polyline points="1655.2,1265 1650.2,1267.5 1620.2,1280 1595.2,1296.3 1572.7,1317.5 1557.6,1335 1540.1,1365.1 1531.4,1400.1 1530.1,1430.1 1523.9,1470.1 1522.6,1501.4 1532.6,1530.1 1545.1,1557.7 1557.6,1585.2 1572.7,1612.7 1578.1,1620 1588.5,1637.1 1603.7,1659.8 1618.9,1684.5 1625.9,1703.4 1623.6,1733.7 1618.9,1762.2 1617,1790.6 1616,1819.1 1615.5,1836.1 1615.5,1839" class="cl"/>
<polyline points="1714.7,1273.8 1695.2,1280 1665.2,1292.5 1632.7,1312.5 1602.7,1340 1580.2,1367.6 1572.7,1400.1 1576.4,1430.1 1581.4,1467.6 1587.7,1501.4 1607.7,1530.1 1632.7,1557.7 1660.2,1582.7 1682.7,1600.2 1695.2,1615.2 1714.7,1621.4" class="cl"/>
<polyline points="1704.5,1709.1 1692.8,1711 1675.7,1731.8 1660.6,1756.5 1649.2,1781.1 1642.6,1809.6 1637.8,1836.1 1637.4,1839" class="cl"/>
<polyline points="1714.7,1301.3 1704,1298.8 1682.7,1307.5 1660.2,1320 1637.7,1340 1617.7,1367.6 1612.7,1400.1 1620.2,1430.1 1632.7,1462.6 1650.2,1500.1 1670.2,1517.6 1695.2,1540.1 1710.2,1557.7 1725.7,1567.7" class="cl"/>
<polyline points="1682.4,1784.9 1671.9,1802 1664.4,1819.1 1658.7,1836.1 1658.3,1839" class="cl"/>
<polyline points="1714.7,1316.3 1700.2,1323.8 1680.2,1335 1655.2,1365.1 1653.9,1400.1 1662.7,1425.1 1682.7,1460.1 1707.7,1492.6 1722.7,1512.6 1736,1517.6" class="cl"/>
<polyline points="1714.7,1329.3 1709.5,1334 1706.5,1344.5 1703.2,1354 1692.7,1366.6 1695.2,1400.1 1705.2,1417.6 1717.7,1435.1 1725.7,1442.6" class="cl"/>
<polyline points="1693.7,1766 1690,1770.7" class="cl"/>
</g>
</g>
<path d="M1179.7 1257V1267.5M1179.7 1836.8V1847.3M1233.2 1257V1267.5M1233.2 1836.8V1847.3M1340.2 1257V1267.5M1340.2 1836.8V1847.3M1393.7 1257V1267.5M1393.7 1836.8V1847.3M1500.7 1257V1267.5M1500.7 1836.8V1847.3M1554.2 1257V1267.5M1554.2 1836.8V1847.3M1661.1 1257V1267.5M1661.1 1836.8V1847.3M1714.6 1257V1267.5M1714.6 1836.8V1847.3M1821.6 1257V1267.5M1821.6 1836.8V1847.3M1875.1 1257V1267.5M1875.1 1836.8V1847.3M1982.1 1257V1267.5M1982.1 1836.8V1847.3M2035.6 1257V1267.5M2035.6 1836.8V1847.3M1169.2 1820.1H1179.7M2035.6 1820.1H2046.1M1169.2 1786.6H1179.7M2035.6 1786.6H2046.1M1169.2 1719.6H1179.7M2035.6 1719.6H2046.1M1169.2 1686.1H1179.7M2035.6 1686.1H2046.1M1169.2 1619.1H1179.7M2035.6 1619.1H2046.1M1169.2 1585.6H1179.7M2035.6 1585.6H2046.1M1169.2 1518.7H1179.7M2035.6 1518.7H2046.1M1169.2 1485.2H1179.7M2035.6 1485.2H2046.1M1169.2 1418.2H1179.7M2035.6 1418.2H2046.1M1169.2 1384.7H1179.7M2035.6 1384.7H2046.1M1169.2 1324.1H1179.7M2035.6 1324.1H2046.1M1169.2 1308.6H1179.7M2035.6 1308.6H2046.1M1169.2 1275H1179.7M2035.6 1275H2046.1" stroke="#000" stroke-width="1.6" fill="none"/>
<path d="M1286.7 1257V1270.5M1286.7 1833.8V1847.3M1447.2 1257V1270.5M1447.2 1833.8V1847.3M1607.7 1257V1270.5M1607.7 1833.8V1847.3M1768.1 1257V1270.5M1768.1 1833.8V1847.3M1928.6 1257V1270.5M1928.6 1833.8V1847.3M1168.7 1753.1H1182.2M2033.1 1753.1H2046.6M1168.7 1652.6H1182.2M2033.1 1652.6H2046.6M1168.7 1552.2H1182.2M2033.1 1552.2H2046.6M1168.7 1451.7H1182.2M2033.1 1451.7H2046.6M1168.7 1348.2H1182.2M2033.1 1348.2H2046.6M1168.7 1292.4H1182.2M2033.1 1292.4H2046.6" stroke="#000" stroke-width="3.0" fill="none" stroke-linecap="round"/>
<rect x="1179.7" y="1267.5" width="855.9" height="569.3" fill="none" stroke="#000" stroke-width="3"/>
<text x="1141.2" y="1766.9" text-anchor="end" class="tk">6</text>
<text x="1141.2" y="1666.4" text-anchor="end" class="tk">9</text>
<text x="1141.2" y="1566" text-anchor="end" class="tk">12</text>
<text x="1141.2" y="1465.5" text-anchor="end" class="tk">15</text>
<text x="1141.2" y="1362" text-anchor="end" class="tk">18</text>
<text x="1141.2" y="1306.2" text-anchor="end" class="tk">21</text>
<text transform="translate(1191.2 1787.6) scale(1.068 1)" class="pl">(f)</text>
</g>
<text transform="translate(48.6 314.9) rotate(-90)" text-anchor="middle" class="ax" style="font-size:35.7px">Height (km)</text>
<text transform="translate(48.6 926.5) rotate(-90)" text-anchor="middle" class="ax" style="font-size:35.7px">Height (km)</text>
<text transform="translate(43.4 1554.4) rotate(-90)" text-anchor="middle" class="ax" style="font-size:35.7px">Height (km)</text>
<text x="258.2" y="1906" text-anchor="middle" class="tk">-60</text>
<text x="418.3" y="1906" text-anchor="middle" class="tk">-30</text>
<text x="578.4" y="1906" text-anchor="middle" class="tk">0</text>
<text x="738.5" y="1906" text-anchor="middle" class="tk">30</text>
<text x="898.6" y="1906" text-anchor="middle" class="tk">60</text>
<text x="1286.7" y="1906" text-anchor="middle" class="tk">-60</text>
<text x="1447.2" y="1906" text-anchor="middle" class="tk">-30</text>
<text x="1607.7" y="1906" text-anchor="middle" class="tk">0</text>
<text x="1768.1" y="1906" text-anchor="middle" class="tk">30</text>
<text x="1928.6" y="1906" text-anchor="middle" class="tk">60</text>
<text x="578" y="1959" text-anchor="middle" class="ax">Mie Wind (m/s)</text>
<text x="1607.5" y="1959" text-anchor="middle" class="ax">Rayleigh Wind (m/s)</text>
<rect x="582.1" y="2032" width="90.2" height="38.5" fill="#00441b" stroke="#000" stroke-width="2"/>
<rect x="672.3" y="2032" width="90.2" height="38.5" fill="#1b7837" stroke="#000" stroke-width="2"/>
<rect x="762.4" y="2032" width="90.2" height="38.5" fill="#5aae61" stroke="#000" stroke-width="2"/>
<rect x="852.6" y="2032" width="90.2" height="38.5" fill="#a6dba0" stroke="#000" stroke-width="2"/>
<rect x="942.8" y="2032" width="90.2" height="38.5" fill="#d9f0d3" stroke="#000" stroke-width="2"/>
<rect x="1033" y="2032" width="90.2" height="38.5" fill="#fbfbfb" stroke="#000" stroke-width="2"/>
<rect x="1123.1" y="2032" width="90.2" height="38.5" fill="#e7d4e8" stroke="#000" stroke-width="2"/>
<rect x="1213.3" y="2032" width="90.2" height="38.5" fill="#c2a5cf" stroke="#000" stroke-width="2"/>
<rect x="1303.5" y="2032" width="90.2" height="38.5" fill="#9970ab" stroke="#000" stroke-width="2"/>
<rect x="1393.6" y="2032" width="90.2" height="38.5" fill="#762a83" stroke="#000" stroke-width="2"/>
<rect x="1483.8" y="2032" width="90.2" height="38.5" fill="#40004b" stroke="#000" stroke-width="2"/>
<text x="672.3" y="2114" text-anchor="middle" class="tk" style="font-size:40.5px">-2.7</text>
<text x="762.4" y="2114" text-anchor="middle" class="tk" style="font-size:40.5px">-2.1</text>
<text x="852.6" y="2114" text-anchor="middle" class="tk" style="font-size:40.5px">-1.5</text>
<text x="942.8" y="2114" text-anchor="middle" class="tk" style="font-size:40.5px">-0.9</text>
<text x="1033" y="2114" text-anchor="middle" class="tk" style="font-size:40.5px">-0.3</text>
<text x="1123.1" y="2114" text-anchor="middle" class="tk" style="font-size:40.5px">0.3</text>
<text x="1213.3" y="2114" text-anchor="middle" class="tk" style="font-size:40.5px">0.9</text>
<text x="1303.5" y="2114" text-anchor="middle" class="tk" style="font-size:40.5px">1.5</text>
<text x="1393.6" y="2114" text-anchor="middle" class="tk" style="font-size:40.5px">2.1</text>
<text x="1483.8" y="2114" text-anchor="middle" class="tk" style="font-size:40.5px">2.7</text>
</svg></body></html>
